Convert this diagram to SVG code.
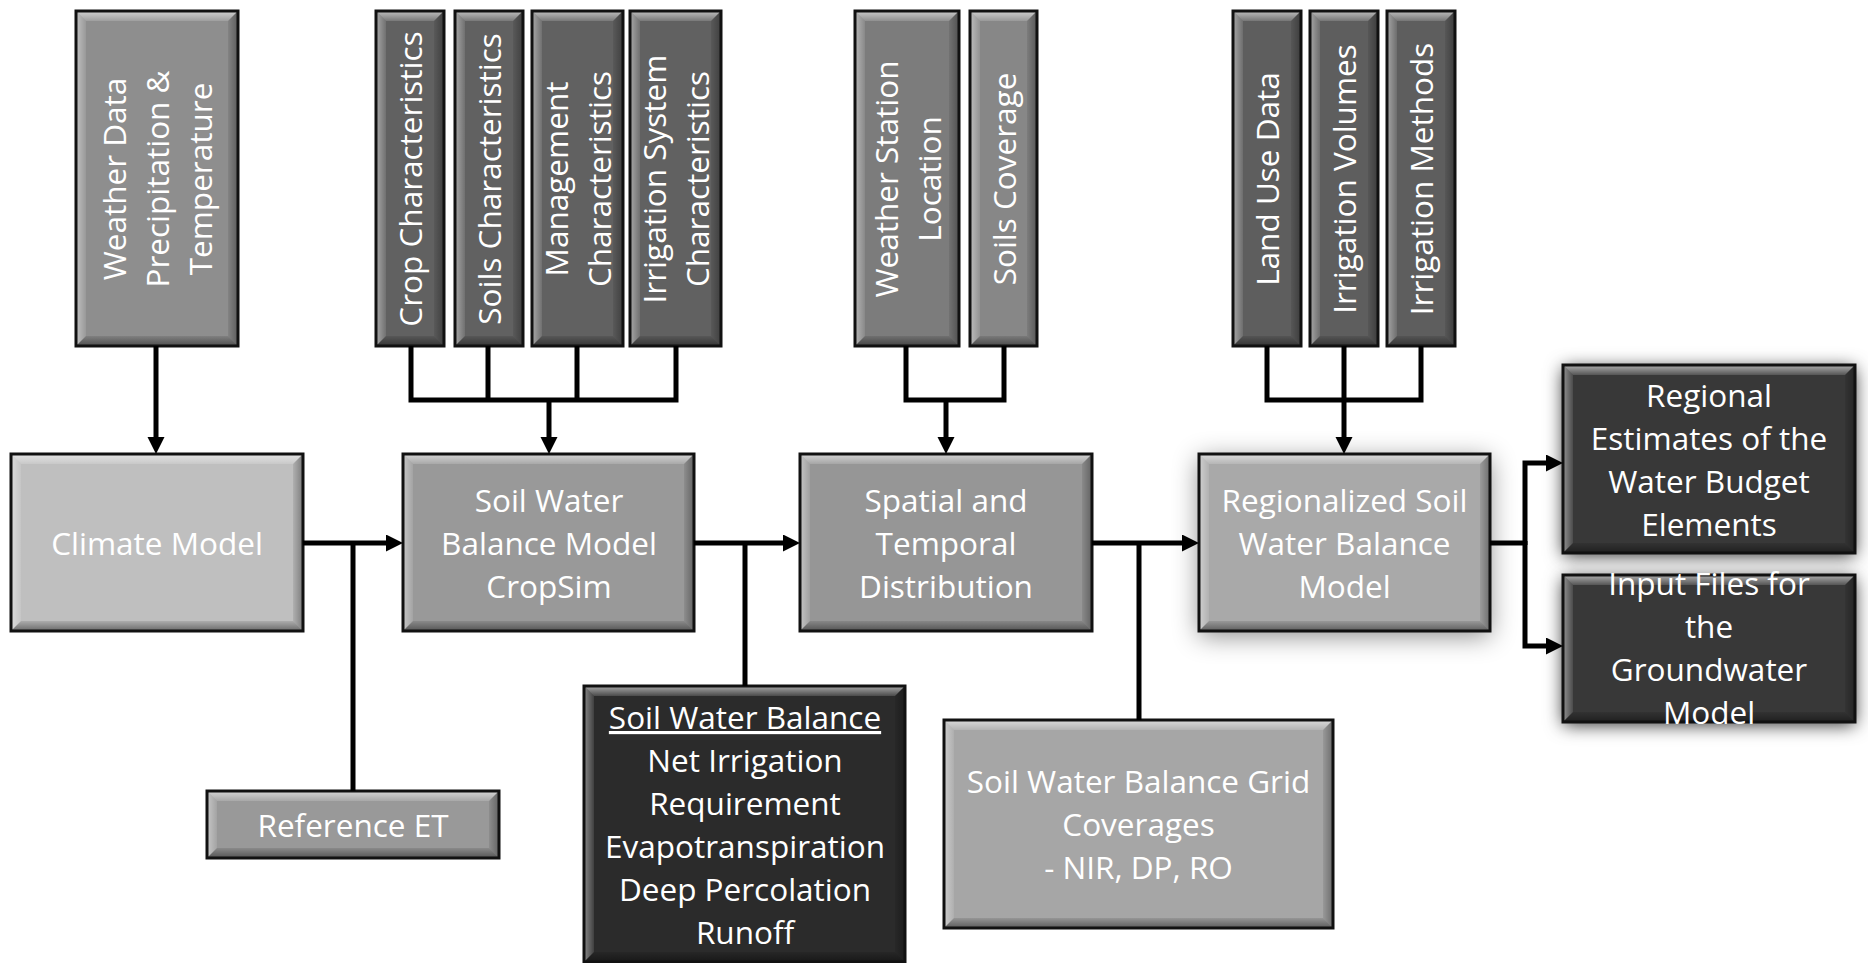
<svg xmlns="http://www.w3.org/2000/svg" width="1868" height="963" viewBox="0 0 1868 963">
<defs>
<linearGradient id="gTop" x1="0" y1="0" x2="0" y2="1"><stop offset="0" stop-color="#fff" stop-opacity="0.6"/><stop offset="1" stop-color="#fff" stop-opacity="0.15"/></linearGradient>
<linearGradient id="gBot" x1="0" y1="0" x2="0" y2="1"><stop offset="0" stop-color="#000" stop-opacity="0.1"/><stop offset="1" stop-color="#000" stop-opacity="0.45"/></linearGradient>
<linearGradient id="gLeft" x1="0" y1="0" x2="1" y2="0"><stop offset="0" stop-color="#fff" stop-opacity="0.45"/><stop offset="1" stop-color="#fff" stop-opacity="0.1"/></linearGradient>
<linearGradient id="gRight" x1="0" y1="0" x2="1" y2="0"><stop offset="0" stop-color="#000" stop-opacity="0.08"/><stop offset="1" stop-color="#000" stop-opacity="0.35"/></linearGradient>
<filter id="shSoft" x="-30%" y="-40%" width="160%" height="180%"><feDropShadow dx="0" dy="5" stdDeviation="13" flood-color="#000" flood-opacity="0.45"/></filter>
<filter id="shStrong" x="-30%" y="-40%" width="160%" height="180%"><feDropShadow dx="0" dy="3" stdDeviation="9" flood-color="#000" flood-opacity="0.8"/></filter>
<marker id="arr" markerUnits="userSpaceOnUse" markerWidth="18" markerHeight="18" viewBox="0 0 18 18" refX="9" refY="8.5" orient="auto"><path d="M0,0 L17,8.5 L0,17 z" fill="#000"/></marker>
</defs>
<style>
.bt{fill:url(#gTop)}
.bb{fill:url(#gBot)}
.bl{fill:url(#gLeft)}
.br{fill:url(#gRight)}
.bd{fill:none;stroke:#111;stroke-width:3}
text{font-family:"Open Sans",Lato,sans-serif;font-size:31.5px;fill:#fff;text-anchor:middle}
.u{text-decoration:underline}
.cn{fill:none;stroke:#000;stroke-width:5;stroke-linejoin:miter}
</style>
<rect width="1868" height="963" fill="#fff"/>

<!-- Top row -->
<g id="weather-data" transform="translate(76,11)">
<rect width="162" height="335" fill="#8e8e8e"/>
<path class="bt" d="M0,0 H162 L152,10 H10 Z"/><path class="bl" d="M0,0 L10,10 V325 L0,335 Z"/><path class="br" d="M162,0 V335 L152,325 V10 Z"/><path class="bb" d="M0,335 L10,325 H152 L162,335 Z"/>
<rect class="bd" width="162" height="335"/>
<text transform="translate(81,168) rotate(-90)"><tspan x="0" y="-31">Weather Data</tspan><tspan x="0" y="12">Precipitation &amp;</tspan><tspan x="0" y="55">Temperature</tspan></text>
</g>

<g id="crop-characteristics" transform="translate(376,11)">
<rect width="68" height="335" fill="#616161"/>
<path class="bt" d="M0,0 H68 L58,10 H10 Z"/><path class="bl" d="M0,0 L10,10 V325 L0,335 Z"/><path class="br" d="M68,0 V335 L58,325 V10 Z"/><path class="bb" d="M0,335 L10,325 H58 L68,335 Z"/>
<rect class="bd" width="68" height="335"/>
<text transform="translate(34,168) rotate(-90)"><tspan x="0" y="12">Crop Characteristics</tspan></text>
</g>

<g id="soils-characteristics" transform="translate(455,11)">
<rect width="68" height="335" fill="#616161"/>
<path class="bt" d="M0,0 H68 L58,10 H10 Z"/><path class="bl" d="M0,0 L10,10 V325 L0,335 Z"/><path class="br" d="M68,0 V335 L58,325 V10 Z"/><path class="bb" d="M0,335 L10,325 H58 L68,335 Z"/>
<rect class="bd" width="68" height="335"/>
<text transform="translate(34,168) rotate(-90)"><tspan x="0" y="12">Soils Characteristics</tspan></text>
</g>

<g id="management-characteristics" transform="translate(532,11)">
<rect width="91" height="335" fill="#616161"/>
<path class="bt" d="M0,0 H91 L81,10 H10 Z"/><path class="bl" d="M0,0 L10,10 V325 L0,335 Z"/><path class="br" d="M91,0 V335 L81,325 V10 Z"/><path class="bb" d="M0,335 L10,325 H81 L91,335 Z"/>
<rect class="bd" width="91" height="335"/>
<text transform="translate(45.5,168) rotate(-90)"><tspan x="0" y="-9.5">Management</tspan><tspan x="0" y="33.5">Characteristics</tspan></text>
</g>

<g id="irrigation-system-characteristics" transform="translate(630,11)">
<rect width="91" height="335" fill="#616161"/>
<path class="bt" d="M0,0 H91 L81,10 H10 Z"/><path class="bl" d="M0,0 L10,10 V325 L0,335 Z"/><path class="br" d="M91,0 V335 L81,325 V10 Z"/><path class="bb" d="M0,335 L10,325 H81 L91,335 Z"/>
<rect class="bd" width="91" height="335"/>
<text transform="translate(45.5,168) rotate(-90)"><tspan x="0" y="-9.5">Irrigation System</tspan><tspan x="0" y="33.5">Characteristics</tspan></text>
</g>

<g id="weather-station-location" transform="translate(855,11)">
<rect width="104" height="335" fill="#7c7c7c"/>
<path class="bt" d="M0,0 H104 L94,10 H10 Z"/><path class="bl" d="M0,0 L10,10 V325 L0,335 Z"/><path class="br" d="M104,0 V335 L94,325 V10 Z"/><path class="bb" d="M0,335 L10,325 H94 L104,335 Z"/>
<rect class="bd" width="104" height="335"/>
<text transform="translate(52,168) rotate(-90)"><tspan x="0" y="-9.5">Weather Station</tspan><tspan x="0" y="33.5">Location</tspan></text>
</g>

<g id="soils-coverage" transform="translate(970,11)">
<rect width="67" height="335" fill="#878787"/>
<path class="bt" d="M0,0 H67 L57,10 H10 Z"/><path class="bl" d="M0,0 L10,10 V325 L0,335 Z"/><path class="br" d="M67,0 V335 L57,325 V10 Z"/><path class="bb" d="M0,335 L10,325 H57 L67,335 Z"/>
<rect class="bd" width="67" height="335"/>
<text transform="translate(33.5,168) rotate(-90)"><tspan x="0" y="12">Soils Coverage</tspan></text>
</g>

<g id="land-use-data" transform="translate(1233,11)">
<rect width="68" height="335" fill="#5e5e5e"/>
<path class="bt" d="M0,0 H68 L58,10 H10 Z"/><path class="bl" d="M0,0 L10,10 V325 L0,335 Z"/><path class="br" d="M68,0 V335 L58,325 V10 Z"/><path class="bb" d="M0,335 L10,325 H58 L68,335 Z"/>
<rect class="bd" width="68" height="335"/>
<text transform="translate(34,168) rotate(-90)"><tspan x="0" y="12">Land Use Data</tspan></text>
</g>

<g id="irrigation-volumes" transform="translate(1310,11)">
<rect width="68" height="335" fill="#5e5e5e"/>
<path class="bt" d="M0,0 H68 L58,10 H10 Z"/><path class="bl" d="M0,0 L10,10 V325 L0,335 Z"/><path class="br" d="M68,0 V335 L58,325 V10 Z"/><path class="bb" d="M0,335 L10,325 H58 L68,335 Z"/>
<rect class="bd" width="68" height="335"/>
<text transform="translate(34,168) rotate(-90)"><tspan x="0" y="12">Irrigation Volumes</tspan></text>
</g>

<g id="irrigation-methods" transform="translate(1387,11)">
<rect width="68" height="335" fill="#5e5e5e"/>
<path class="bt" d="M0,0 H68 L58,10 H10 Z"/><path class="bl" d="M0,0 L10,10 V325 L0,335 Z"/><path class="br" d="M68,0 V335 L58,325 V10 Z"/><path class="bb" d="M0,335 L10,325 H58 L68,335 Z"/>
<rect class="bd" width="68" height="335"/>
<text transform="translate(34,168) rotate(-90)"><tspan x="0" y="12">Irrigation Methods</tspan></text>
</g>

<!-- Lower row -->
<g id="climate-model" transform="translate(11,454)">
<rect width="292" height="177" fill="#bfbfbf"/>
<path class="bt" d="M0,0 H292 L282,10 H10 Z"/><path class="bl" d="M0,0 L10,10 V167 L0,177 Z"/><path class="br" d="M292,0 V177 L282,167 V10 Z"/><path class="bb" d="M0,177 L10,167 H282 L292,177 Z"/>
<rect class="bd" width="292" height="177"/>
<text x="146" y="101">Climate Model</text>
</g>

<g id="soil-water-balance-model" transform="translate(403,454)">
<rect width="291" height="177" fill="#999"/>
<path class="bt" d="M0,0 H291 L281,10 H10 Z"/><path class="bl" d="M0,0 L10,10 V167 L0,177 Z"/><path class="br" d="M291,0 V177 L281,167 V10 Z"/><path class="bb" d="M0,177 L10,167 H281 L291,177 Z"/>
<rect class="bd" width="291" height="177"/>
<text><tspan x="146" y="58">Soil Water</tspan><tspan x="146" y="101">Balance Model</tspan><tspan x="146" y="144">CropSim</tspan></text>
</g>

<g id="spatial-temporal-distribution" transform="translate(800,454)">
<rect width="292" height="177" fill="#969696"/>
<path class="bt" d="M0,0 H292 L282,10 H10 Z"/><path class="bl" d="M0,0 L10,10 V167 L0,177 Z"/><path class="br" d="M292,0 V177 L282,167 V10 Z"/><path class="bb" d="M0,177 L10,167 H282 L292,177 Z"/>
<rect class="bd" width="292" height="177"/>
<text><tspan x="146" y="58">Spatial and</tspan><tspan x="146" y="101">Temporal</tspan><tspan x="146" y="144">Distribution</tspan></text>
</g>

<g id="regionalized-soil-water-balance-model" transform="translate(1199,454)">
<rect width="291" height="177" fill="#a9a9a9" filter="url(#shSoft)"/>
<path class="bt" d="M0,0 H291 L281,10 H10 Z"/><path class="bl" d="M0,0 L10,10 V167 L0,177 Z"/><path class="br" d="M291,0 V177 L281,167 V10 Z"/><path class="bb" d="M0,177 L10,167 H281 L291,177 Z"/>
<rect class="bd" width="291" height="177"/>
<text><tspan x="145.5" y="58">Regionalized Soil</tspan><tspan x="145.5" y="101">Water Balance</tspan><tspan x="145.5" y="144">Model</tspan></text>
</g>

<g id="regional-estimates" transform="translate(1563,365)">
<rect width="292" height="188" fill="#383838" filter="url(#shStrong)"/>
<path class="bt" d="M0,0 H292 L282,10 H10 Z"/><path class="bl" d="M0,0 L10,10 V178 L0,188 Z"/><path class="br" d="M292,0 V188 L282,178 V10 Z"/><path class="bb" d="M0,188 L10,178 H282 L292,188 Z"/>
<rect class="bd" width="292" height="188"/>
<text><tspan x="146" y="42">Regional</tspan><tspan x="146" y="85">Estimates of the</tspan><tspan x="146" y="128">Water Budget</tspan><tspan x="146" y="171">Elements</tspan></text>
</g>

<g id="input-files" transform="translate(1563,575)">
<rect width="292" height="147" fill="#383838" filter="url(#shStrong)"/>
<path class="bt" d="M0,0 H292 L282,10 H10 Z"/><path class="bl" d="M0,0 L10,10 V137 L0,147 Z"/><path class="br" d="M292,0 V147 L282,137 V10 Z"/><path class="bb" d="M0,147 L10,137 H282 L292,147 Z"/>
<rect class="bd" width="292" height="147"/>
<text><tspan x="146" y="20">Input Files for</tspan><tspan x="146" y="63">the</tspan><tspan x="146" y="106">Groundwater</tspan><tspan x="146" y="149">Model</tspan></text>
</g>

<g id="reference-et" transform="translate(207,791)">
<rect width="292" height="67" fill="#999"/>
<path class="bt" d="M0,0 H292 L282,10 H10 Z"/><path class="bl" d="M0,0 L10,10 V57 L0,67 Z"/><path class="br" d="M292,0 V67 L282,57 V10 Z"/><path class="bb" d="M0,67 L10,57 H282 L292,67 Z"/>
<rect class="bd" width="292" height="67"/>
<text x="146" y="46">Reference ET</text>
</g>

<g id="soil-water-balance-outputs" transform="translate(584,686)">
<rect width="321" height="276" fill="#2b2b2b"/>
<path class="bt" d="M0,0 H321 L311,10 H10 Z"/><path class="bl" d="M0,0 L10,10 V266 L0,276 Z"/><path class="br" d="M321,0 V276 L311,266 V10 Z"/><path class="bb" d="M0,276 L10,266 H311 L321,276 Z"/>
<rect class="bd" width="321" height="276"/>
<text><tspan class="u" x="161" y="43">Soil Water Balance</tspan><tspan x="161" y="86">Net Irrigation</tspan><tspan x="161" y="129">Requirement</tspan><tspan x="161" y="172">Evapotranspiration</tspan><tspan x="161" y="215">Deep Percolation</tspan><tspan x="161" y="258">Runoff</tspan></text>
</g>

<g id="soil-water-balance-grid" transform="translate(944,720)">
<rect width="389" height="208" fill="#a6a6a6"/>
<path class="bt" d="M0,0 H389 L379,10 H10 Z"/><path class="bl" d="M0,0 L10,10 V198 L0,208 Z"/><path class="br" d="M389,0 V208 L379,198 V10 Z"/><path class="bb" d="M0,208 L10,198 H379 L389,208 Z"/>
<rect class="bd" width="389" height="208"/>
<text><tspan x="194.5" y="73">Soil Water Balance Grid</tspan><tspan x="194.5" y="116">Coverages</tspan><tspan x="194.5" y="159">- NIR, DP, RO</tspan></text>
</g>

<g id="connectors">
<path class="cn" d="M156,346 V446" marker-end="url(#arr)"/>
<path class="cn" d="M411,346 V400 H676 V346 M488,346 V400 M577,346 V400"/>
<path class="cn" d="M549,400 V446" marker-end="url(#arr)"/>
<path class="cn" d="M906,346 V400 H1004 V346"/>
<path class="cn" d="M946,400 V446" marker-end="url(#arr)"/>
<path class="cn" d="M1267,346 V400 H1421 V346 M1344,346 V400"/>
<path class="cn" d="M1344,400 V446" marker-end="url(#arr)"/>
<path class="cn" d="M303,543 H395" marker-end="url(#arr)"/>
<path class="cn" d="M353,543 V791"/>
<path class="cn" d="M694,543 H792" marker-end="url(#arr)"/>
<path class="cn" d="M745,543 V686"/>
<path class="cn" d="M1092,543 H1191" marker-end="url(#arr)"/>
<path class="cn" d="M1139,543 V720"/>
<path class="cn" d="M1490,543 H1525"/>
<path class="cn" d="M1525,545 V463 H1555" marker-end="url(#arr)"/>
<path class="cn" d="M1525,541 V646 H1555" marker-end="url(#arr)"/>
</g>
</svg>
